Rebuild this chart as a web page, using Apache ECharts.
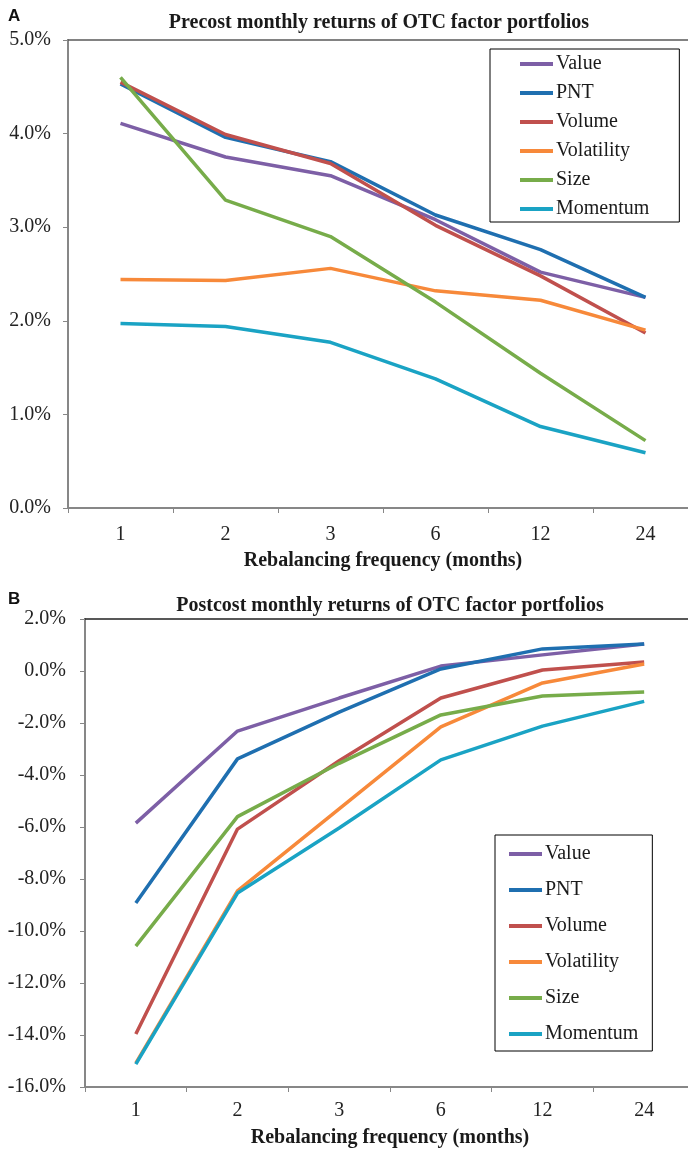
<!DOCTYPE html>
<html>
<head>
<meta charset="utf-8">
<script src="https://cdn.jsdelivr.net/npm/echarts@6/dist/echarts.min.js"></script>
<style>
html,body{margin:0;padding:0;background:#fff;overflow:hidden;}
#chart{width:688px;height:1149px;}
</style>
</head>
<body>
<div id="chart"></div>
<script>
// ---- data ----
const categories = ['1', '2', '3', '6', '12', '24'];
const seriesNames = ['Value', 'PNT', 'Volume', 'Volatility', 'Size', 'Momentum'];
const colors = ['#7d5fa6', '#1f6fb0', '#c0504d', '#f7893a', '#77ac4a', '#1aa3c4'];

// Panel A: precost monthly returns (%)
const valuePre      = [4.11, 3.75, 3.55, 3.08, 2.52, 2.25];
const pntPre        = [4.53, 3.96, 3.70, 3.13, 2.76, 2.25];
const volumePre     = [4.55, 3.99, 3.68, 3.02, 2.48, 1.87];
const volatilityPre = [2.44, 2.43, 2.56, 2.32, 2.22, 1.90];
const sizePre       = [4.60, 3.29, 2.90, 2.20, 1.44, 0.72];
const momentumPre   = [1.97, 1.94, 1.77, 1.38, 0.87, 0.59];

// Panel B: postcost monthly returns (%)
const valuePost      = [-5.85, -2.31, -1.04, 0.19, 0.62, 1.04];
const pntPost        = [-8.92, -3.38, -1.58, 0.08, 0.85, 1.04];
const volumePost     = [-13.96, -6.08, -3.45, -1.04, 0.04, 0.35];
const volatilityPost = [-15.08, -8.46, -5.30, -2.15, -0.46, 0.27];
const sizePost       = [-10.58, -5.60, -3.55, -1.69, -0.96, -0.81];
const momentumPost   = [-15.12, -8.54, -6.04, -3.42, -2.12, -1.17];

const titleA = 'Precost monthly returns of OTC factor portfolios';
const titleB = 'Postcost monthly returns of OTC factor portfolios';
const xName = 'Rebalancing frequency (months)';

const preData = [valuePre, pntPre, volumePre, volatilityPre, sizePre, momentumPre];
const postData = [valuePost, pntPost, volumePost, volatilityPost, sizePost, momentumPost];

// ---- chart ----
const SERIF = 'Liberation Serif';
const axisGray = '#878787';
const chart = echarts.init(document.getElementById('chart'));

function bottomX(gridIndex, nameGap, margin) {
  return {
    type: 'category', gridIndex: gridIndex, data: categories, boundaryGap: true,
    position: 'bottom',
    name: xName, nameLocation: 'middle', nameGap: nameGap,
    nameTextStyle: {fontFamily: SERIF, fontWeight: 'bold', fontSize: 20, color: '#1a1a1a'},
    axisLine: {onZero: false, lineStyle: {color: axisGray, width: 2}},
    axisTick: {show: true, alignWithLabel: false, length: 5, lineStyle: {color: axisGray, width: 1}},
    axisLabel: {fontFamily: SERIF, fontSize: 20, color: '#222', margin: margin},
    splitLine: {show: false}
  };
}
function topX(gridIndex, color) {
  return {
    type: 'category', gridIndex: gridIndex, data: categories, position: 'top',
    axisLine: {onZero: false, lineStyle: {color: color, width: 1.5}},
    axisTick: {show: false}, axisLabel: {show: false}, splitLine: {show: false}
  };
}
function yAx(gridIndex, min, max, interval, margin) {
  return {
    type: 'value', gridIndex: gridIndex, min: min, max: max, interval: interval,
    axisLine: {show: true, onZero: false, lineStyle: {color: axisGray, width: 2}},
    axisTick: {show: true, length: 5, lineStyle: {color: axisGray, width: 1}},
    axisLabel: {fontFamily: SERIF, fontSize: 20, color: '#222', margin: margin,
      formatter: v => v.toFixed(1) + '%'},
    splitLine: {show: false}
  };
}

const series = [];
seriesNames.forEach((n, i) => {
  series.push({
    name: n, type: 'line', xAxisIndex: 0, yAxisIndex: 0, data: preData[i],
    symbol: 'none', lineStyle: {width: 3.5, color: colors[i]}, itemStyle: {color: colors[i]}
  });
});
seriesNames.forEach((n, i) => {
  series.push({
    name: n, type: 'line', xAxisIndex: 2, yAxisIndex: 1, data: postData[i],
    symbol: 'none', lineStyle: {width: 3.5, color: colors[i]}, itemStyle: {color: colors[i]}
  });
});

function legend(left, top, gap, padding) {
  return {
    data: seriesNames, orient: 'vertical', left: left, top: top,
    icon: 'rect', itemWidth: 33, itemHeight: 4, itemGap: gap,
    borderColor: '#000', borderWidth: 1, padding: padding, selectedMode: false,
    textStyle: {fontFamily: SERIF, fontSize: 20, color: '#1a1a1a', lineHeight: 20, height: 20, padding: [0, 0, 0, -2]}
  };
}

chart.setOption({
  backgroundColor: '#fff',
  animation: false,
  title: [
    {text: titleA, left: 374, textAlign: 'center', top: 8,
     textStyle: {fontFamily: SERIF, fontWeight: 'bold', fontSize: 20, color: '#1a1a1a'}},
    {text: titleB, left: 385, textAlign: 'center', top: 591,
     textStyle: {fontFamily: SERIF, fontWeight: 'bold', fontSize: 20, color: '#1a1a1a'}}
  ],
  graphic: [
    {type: 'text', left: 8, top: 8, style: {text: 'A', font: 'bold 17px "Liberation Sans"', fill: '#111'}},
    {type: 'text', left: 8, top: 591, style: {text: 'B', font: 'bold 17px "Liberation Sans"', fill: '#111'}}
  ],
  legend: [
    legend(490, 49, 9, [5, 30, 3, 30]),
    legend(495, 835, 16, [9, 14, 7, 14])
  ],
  grid: [
    {left: 68, top: 40, width: 630, height: 468, containLabel: false, outerBoundsMode: 'none'},
    {left: 85, top: 619, width: 610, height: 468, containLabel: false, outerBoundsMode: 'none'}
  ],
  xAxis: [bottomX(0, 43, 17), topX(0, '#5a5a5a'), bottomX(1, 41, 14), topX(1, '#222')],
  yAxis: [yAx(0, 0, 5, 1, 17), yAx(1, -16, 2, 2, 19)],
  series: series
});
</script>
</body>
</html>
